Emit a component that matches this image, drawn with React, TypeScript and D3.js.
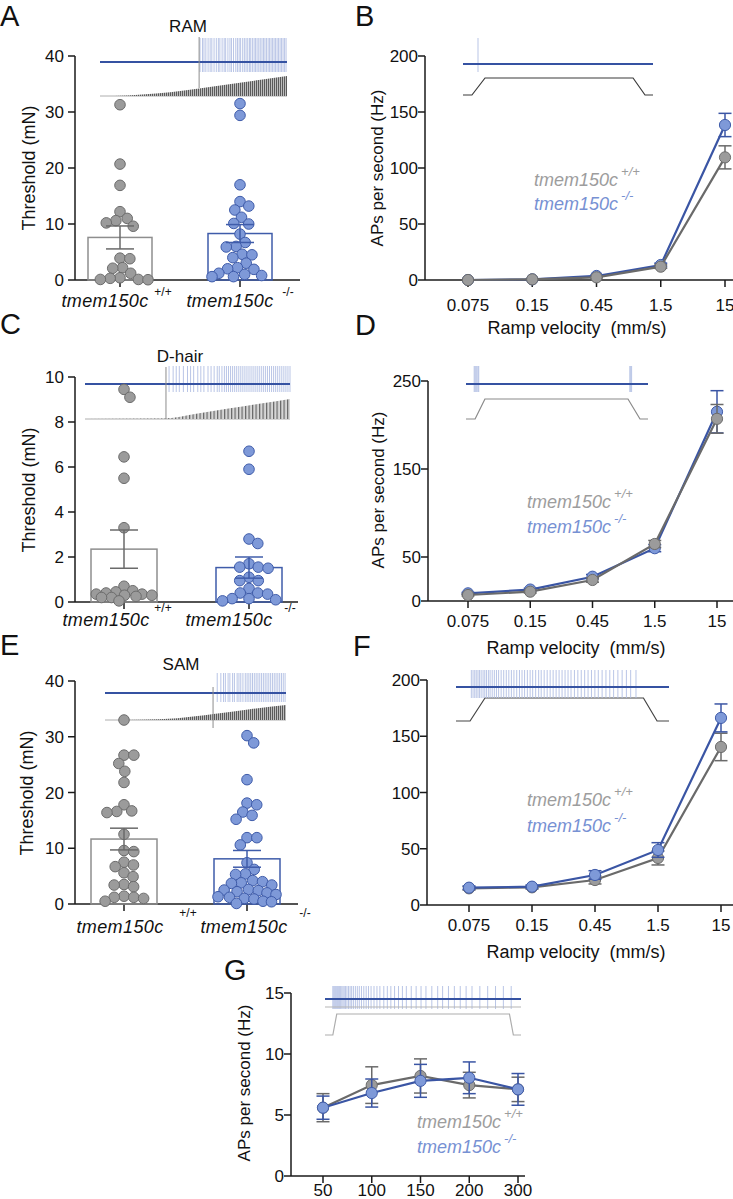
import React from 'react';
import * as d3 from 'd3';

// ---------------- DATA ----------------
const genotypeName = 'tmem150c';
const genotypeSup = ['+/+', '-/-'];

// Panel A (RAM thresholds, mN)
const ramWT = [31.3, 20.7, 16.9, 12.2, 11.0, 10.6, 10.2, 9.6, 3.9, 3.8, 2.2, 2.1, 1.2, 0.4, 0.3, 0.1, 0.05, 0.1];
const ramKO = [31.5, 29.4, 17.0, 14.0, 13.2, 12.5, 11.2, 10.1, 10.0, 8.2, 6.7, 6.0, 5.9, 4.6, 4.5, 4.0, 3.0, 2.2, 2.0, 1.9, 1.2, 1.0, 0.8, 0.6, 0.6];
const ramMean = [7.6, 8.3];
const ramSem = [2.05, 1.6];
const ramTicks = [0, 10, 20, 30, 40];

// Panel C (D-hair thresholds, mN)
const dhairWT = [9.45, 9.1, 6.45, 5.5, 3.3, 0.7, 0.5, 0.45, 0.4, 0.35, 0.35, 0.3, 0.3, 0.25, 0.2, 0.2, 0.05];
const dhairKO = [6.7, 5.9, 2.8, 2.6, 1.7, 1.55, 1.55, 1.5, 1.1, 0.95, 0.95, 0.6, 0.4, 0.4, 0.35, 0.15, 0.15, 0.1, 0.05];
const dhairMean = [2.35, 1.53];
const dhairSem = [0.85, 0.47];
const dhairTicks = [0, 2, 4, 6, 8, 10];

// Panel E (SAM thresholds, mN)
const samWT = [33.0, 26.7, 26.7, 25.2, 23.8, 21.8, 17.8, 16.7, 16.6, 16.4, 12.5, 9.6, 9.4, 7.5, 7.0, 6.7, 5.6, 4.9, 3.5, 3.4, 3.1, 1.4, 1.2, 1.2, 1.0, 0.5];
const samKO = [30.2, 28.9, 22.3, 18.1, 17.8, 16.5, 15.9, 15.2, 11.9, 11.9, 10.6, 7.4, 6.2, 5.4, 5.3, 4.2, 4.0, 3.8, 3.7, 3.4, 2.6, 2.5, 2.4, 2.2, 2.0, 1.7, 1.3, 1.2, 1.0, 0.9, 0.5, 0.4, 0.1];
const samMean = [11.65, 8.1];
const samSem = [1.95, 1.5];
const samTicks = [0, 10, 20, 30, 40];

// Ramp velocities (mm/s)
const velocities = ['0.075', '0.15', '0.45', '1.5', '15'];

// Panel B (RAM, APs per second)
const ramRateWT = [0, 0.6, 2.4, 11.9, 109.5];
const ramRateWTSem = [0, 0.2, 0.5, 1.5, 10.3];
const ramRateKO = [0, 0.6, 3.6, 13.4, 138.4];
const ramRateKOSem = [0, 0.2, 0.6, 1.6, 10.4];
const ramRateTicks = [0, 50, 100, 150, 200];

// Panel D (D-hair, APs per second)
const dhairRateWT = [6.8, 10.6, 23.9, 64.8, 207];
const dhairRateWTSem = [1, 1.5, 2.5, 4, 16.3];
const dhairRateKO = [8.7, 13, 27.6, 60, 215];
const dhairRateKOSem = [1, 1.5, 2.5, 4, 24];
const dhairRateTicks = [0, 50, 150, 250];

// Panel F (SAM, APs per second)
const samRateWT = [14.8, 15.7, 22.2, 41.8, 140.5];
const samRateWTSem = [1.5, 1.5, 3.5, 6.2, 12.2];
const samRateKO = [15.4, 16.3, 26.7, 48.9, 166.3];
const samRateKOSem = [1.5, 1.5, 3.8, 6.5, 12.4];
const samRateTicks = [0, 50, 100, 150, 200];

// Panel G (vibration frequency, Hz)
const frequencies = ['50', '100', '150', '200', '300'];
const freqRateWT = [5.6, 7.45, 8.2, 7.45, 7.1];
const freqRateWTSem = [1.15, 1.5, 1.4, 1.05, 1.0];
const freqRateKO = [5.6, 6.8, 7.8, 8.05, 7.1];
const freqRateKOSem = [0.95, 1.15, 1.35, 1.3, 1.3];
const freqRateTicks = [0, 5, 10, 15];

// Example trace insets (spike times as fraction of trace length)
const ramSpikes = [0.535, 0.548, 0.556, 0.566, 0.578, 0.589, 0.598, 0.61, 0.622, 0.633, 0.641, 0.653, 0.664, 0.672, 0.684, 0.695, 0.703, 0.714, 0.726, 0.735, 0.744, 0.752, 0.763, 0.772, 0.781, 0.79, 0.799, 0.806, 0.815, 0.824, 0.832, 0.84, 0.849, 0.857, 0.866, 0.874, 0.882, 0.89, 0.899, 0.907, 0.915, 0.923, 0.931, 0.939, 0.947, 0.955, 0.963, 0.971, 0.979, 0.987, 0.995];
const ramStimT = [0, 0.15, 0.3, 0.45, 0.53, 0.7, 0.85, 1];
const ramStimA = [0, 0.03, 0.12, 0.28, 0.38, 0.6, 0.8, 1];

const dhairSpikes = [0.41, 0.43, 0.445, 0.46, 0.48, 0.5, 0.515, 0.53, 0.55, 0.565, 0.58, 0.6, 0.615, 0.63, 0.645, 0.655, 0.668, 0.68, 0.69, 0.7, 0.71, 0.72, 0.73, 0.74, 0.75, 0.76, 0.77, 0.78, 0.79, 0.8, 0.81, 0.82, 0.83, 0.84, 0.85, 0.86, 0.87, 0.88, 0.89, 0.9, 0.91, 0.92, 0.93, 0.94, 0.95, 0.96, 0.97, 0.98, 0.99, 1.0];
const dhairStimT = [0, 0.38, 0.55, 0.7, 0.85, 1];
const dhairStimA = [0, 0.02, 0.28, 0.52, 0.76, 1];

const samSpikes = [0.62, 0.64, 0.655, 0.665, 0.68, 0.69, 0.705, 0.715, 0.73, 0.74, 0.75, 0.762, 0.775, 0.785, 0.795, 0.805, 0.815, 0.825, 0.835, 0.845, 0.855, 0.865, 0.875, 0.885, 0.895, 0.905, 0.915, 0.925, 0.935, 0.945, 0.955, 0.965, 0.975, 0.985, 0.995];
const samStimT = [0, 0.2, 0.4, 0.6, 0.8, 1];
const samStimA = [0, 0.02, 0.12, 0.4, 0.72, 1];

const ramRampSpikes = [0.079];
const dhairRampSpikes = [0.045, 0.05, 0.055, 0.06, 0.066, 0.07, 0.9, 0.905, 0.91];
const samRampSpikes = [0.072, 0.08, 0.088, 0.095, 0.103, 0.11, 0.118, 0.127, 0.135, 0.143, 0.152, 0.16, 0.17, 0.18, 0.19, 0.2, 0.212, 0.224, 0.236, 0.248, 0.26, 0.272, 0.285, 0.298, 0.31, 0.322, 0.335, 0.348, 0.36, 0.374, 0.388, 0.4, 0.414, 0.428, 0.442, 0.456, 0.47, 0.484, 0.498, 0.512, 0.526, 0.54, 0.556, 0.572, 0.588, 0.604, 0.62, 0.636, 0.652, 0.668, 0.686, 0.704, 0.722, 0.74, 0.76, 0.78, 0.8, 0.82, 0.845];
const freqSpikes = [0.04, 0.045, 0.05, 0.055, 0.06, 0.065, 0.07, 0.075, 0.08, 0.086, 0.092, 0.098, 0.105, 0.112, 0.12, 0.128, 0.136, 0.145, 0.155, 0.165, 0.175, 0.186, 0.198, 0.21, 0.222, 0.235, 0.25, 0.265, 0.28, 0.3, 0.318, 0.336, 0.355, 0.375, 0.395, 0.415, 0.44, 0.465, 0.49, 0.515, 0.545, 0.575, 0.6, 0.63, 0.66, 0.69, 0.72, 0.75, 0.79, 0.83, 0.87, 0.91, 0.95];

const ramRampT = [0, 0.047, 0.116, 0.895, 0.958, 1];
const dhairRampT = [0, 0.05, 0.104, 0.89, 0.956, 1];
const samRampT = [0, 0.066, 0.136, 0.88, 0.944, 1];
const freqRampT = [0, 0.04, 0.06, 0.941, 0.961, 1];
const rampLevel = [0, 0, 1, 1, 0, 0];

// ---------------- STYLE ----------------
const FONT = "'Liberation Sans', Arial, Helvetica, sans-serif";
const AXIS = '#1a1a1a';
const GRAY_FILL = '#9b9b9b';
const GRAY_STROKE = '#6c6c6c';
const GRAY_LINE = '#6a6a6a';
const GRAY_BAR = '#8e8e8e';
const BLUE_FILL = '#7e99d8';
const BLUE_STROKE = '#3f5caa';
const BLUE_LINE = '#3a55a4';
const GRAY_TEXT = '#9d9d9d';
const BLUE_TEXT = '#7791d3';
const TRACE_BLUE = '#3552a2';
const SPIKE_BLUE = '#b1bee3';

// ---------------- HELPERS ----------------
type Pt = { v: number; y: number; dx: number };

function swarm(values: number[], y: (v: number) => number, r: number, maxHalf: number) {
  const pts: Pt[] = values.map((v) => ({ v, y: y(v), dx: 0 }));
  const order = pts.slice().sort((a, b) => a.y - b.y);
  const placed: Pt[] = [];
  const d = 2 * r * 0.93;
  for (const p of order) {
    const cands = [0];
    for (const q of placed) {
      const dy = Math.abs(q.y - p.y);
      if (dy < d) {
        const dx = Math.sqrt(d * d - dy * dy);
        cands.push(q.dx + dx + 0.01, q.dx - dx - 0.01);
      }
    }
    cands.sort((a, b) => Math.abs(a) - Math.abs(b));
    let chosen: number | null = null;
    for (const c of cands) {
      if (Math.abs(c) > maxHalf) continue;
      if (placed.every((q) => (q.dx - c) ** 2 + (q.y - p.y) ** 2 >= d * d - 0.05)) {
        chosen = c;
        break;
      }
    }
    if (chosen === null) {
      let best = 0;
      let bestD = -1;
      for (let c = -maxHalf; c <= maxHalf + 1e-6; c += 0.5) {
        let md = Infinity;
        for (const q of placed) md = Math.min(md, (q.dx - c) ** 2 + (q.y - p.y) ** 2);
        if (md > bestD + 1e-6 || (Math.abs(md - bestD) < 1e-6 && Math.abs(c) < Math.abs(best))) {
          bestD = md;
          best = c;
        }
      }
      chosen = best;
    }
    p.dx = chosen;
    placed.push(p);
  }
  return pts;
}

function Letter({ t, x, y }: any) {
  return (
    <text x={x} y={y} fontSize={29} fontFamily={FONT} fill="#111">
      {t}
    </text>
  );
}

function StimWedge({ x0, x1, base, top, T, A, pat }: any) {
  const xs = d3.scaleLinear().domain([0, 1]).range([x0, x1]);
  const ys = d3.scaleLinear().domain([0, 1]).range([base, top]);
  const idx = d3.range(T.length);
  const area = d3
    .area<number>()
    .x((i) => xs(T[i]))
    .y0(base)
    .y1((i) => ys(A[i]))
    .curve(d3.curveMonotoneX);
  return (
    <g>
      <line x1={x0} x2={x1} y1={base} y2={base} stroke="#9a9a9a" strokeWidth={0.8} />
      <path d={area(idx) || ''} fill={`url(#${pat})`} />
    </g>
  );
}

function Trace({ x0, x1, lineY, up, down, spikes, thr, thrTop, thrBottom, extraY }: any) {
  const xs = d3.scaleLinear().domain([0, 1]).range([x0, x1]);
  return (
    <g>
      {spikes.map((s: number, i: number) => (
        <line key={i} x1={xs(s)} x2={xs(s)} y1={up} y2={down} stroke={SPIKE_BLUE} strokeWidth={0.9} />
      ))}
      {extraY != null && <line x1={x0} x2={x1} y1={extraY} y2={extraY} stroke="#b5b5b5" strokeWidth={1} />}
      <line x1={x0} x2={x1} y1={lineY} y2={lineY} stroke={TRACE_BLUE} strokeWidth={2.2} />
      {thr != null && (
        <line x1={xs(thr)} x2={xs(thr)} y1={thrTop} y2={thrBottom} stroke="#8d8d8d" strokeWidth={1} />
      )}
    </g>
  );
}

function Ramp({ x0, x1, base, top, T, color }: any) {
  const xs = d3.scaleLinear().domain([0, 1]).range([x0, x1]);
  const ys = d3.scaleLinear().domain([0, 1]).range([base, top]);
  const line = d3
    .line<number>()
    .x((i) => xs(T[i]))
    .y((i) => ys(rampLevel[i]));
  return <path d={line(d3.range(T.length)) || ''} fill="none" stroke={color} strokeWidth={1.2} />;
}

function AxisGenotype({ cx, base, sup, supX, supBase }: any) {
  return (
    <g fontFamily={FONT} fill="#111">
      <text x={cx} y={base} fontSize={18} fontStyle="italic" textAnchor="middle" letterSpacing={0.4}>
        {genotypeName}
      </text>
      <text x={supX} y={supBase} fontSize={12} textAnchor="middle">
        {sup}
      </text>
    </g>
  );
}

function LegendEntry({ x, base, sup, fill }: any) {
  return (
    <text x={x} y={base} fontFamily={FONT} fontSize={18} fontStyle="italic" fill={fill}>
      {genotypeName}
      <tspan dx={3} dy={-10} fontSize={13}>
        {sup}
      </tspan>
    </text>
  );
}

function BarPanel({ p }: any) {
  const y = d3.scaleLinear().domain([0, p.max]).range([p.y0, p.yTop]);
  const x = d3.scalePoint<string>().domain(['wt', 'ko']).range(p.centers);
  const R = 5.3;
  const groups = [
    { key: 'wt', vals: p.wt, fill: GRAY_FILL, stroke: GRAY_STROKE, bar: GRAY_BAR, err: GRAY_LINE },
    { key: 'ko', vals: p.ko, fill: BLUE_FILL, stroke: BLUE_STROKE, bar: BLUE_STROKE, err: BLUE_STROKE },
  ];
  return (
    <g>
      <Letter t={p.letter} x={p.letterX} y={p.letterY} />
      <text x={p.titleX} y={p.titleY} fontSize={17} fontFamily={FONT} textAnchor="middle" fill="#111">
        {p.title}
      </text>
      {p.inset}
      <line x1={p.axisX} x2={p.axisX} y1={p.y0} y2={p.yTop} stroke={AXIS} strokeWidth={1.5} />
      <line x1={p.axisX} x2={p.xEnd} y1={p.y0} y2={p.y0} stroke={AXIS} strokeWidth={1.5} />
      {p.ticks.map((t: number) => (
        <g key={t}>
          <line x1={p.axisX - 7} x2={p.axisX} y1={y(t)} y2={y(t)} stroke={AXIS} strokeWidth={1.5} />
          <text x={p.axisX - 11} y={y(t) + 6} fontSize={17} fontFamily={FONT} textAnchor="end" fill="#111">
            {t}
          </text>
        </g>
      ))}
      {groups.map((g) => (
        <line key={g.key} x1={x(g.key)!} x2={x(g.key)!} y1={p.y0} y2={p.y0 + 7} stroke={AXIS} strokeWidth={1.5} />
      ))}
      {groups.map((g, gi) => {
        const cx = x(g.key)!;
        const bw = p.barW;
        const pts = swarm(g.vals, y, R, bw / 2 - 4);
        const m = p.mean[gi];
        const s = p.sem[gi];
        return (
          <g key={g.key}>
            <rect x={cx - bw / 2} y={y(m)} width={bw} height={p.y0 - y(m)} fill="none" stroke={g.bar} strokeWidth={1.5} />
            {pts.map((pt, i) => (
              <circle key={i} cx={cx + pt.dx} cy={pt.y} r={R} fill={g.fill} stroke={g.stroke} strokeWidth={1} />
            ))}
            <line x1={cx} x2={cx} y1={y(m + s)} y2={y(m - s)} stroke={g.err} strokeWidth={1.5} />
            <line x1={cx - 14} x2={cx + 14} y1={y(m + s)} y2={y(m + s)} stroke={g.err} strokeWidth={1.5} />
            <line x1={cx - 14} x2={cx + 14} y1={y(m - s)} y2={y(m - s)} stroke={g.err} strokeWidth={1.5} />
          </g>
        );
      })}
      {genotypeSup.map((sup, i) => (
        <AxisGenotype key={i} cx={p.labelCenters[i]} base={p.labelBase} sup={sup} supX={p.supX[i]} supBase={p.supBase} />
      ))}
      <text
        transform={`translate(${p.ylabX},${p.ylabY}) rotate(-90)`}
        fontSize={18}
        fontFamily={FONT}
        textAnchor="middle"
        fill="#111"
      >
        Threshold (mN)
      </text>
    </g>
  );
}

function LinePanel({ p }: any) {
  const x = d3.scalePoint<string>().domain(p.cats).range(p.catRange);
  const y = d3.scaleLinear().domain([0, p.max]).range([p.y0, p.yTop]);
  const series: any = {
    wt: { m: p.wt, s: p.wtSem, line: GRAY_LINE, fill: GRAY_FILL, stroke: GRAY_STROKE },
    ko: { m: p.ko, s: p.koSem, line: BLUE_LINE, fill: BLUE_FILL, stroke: BLUE_STROKE },
  };
  const order = p.top === 'wt' ? ['ko', 'wt'] : ['wt', 'ko'];
  const line = d3
    .line<number>()
    .x((_, i) => x(p.cats[i])!)
    .y((v) => y(v));
  return (
    <g>
      <Letter t={p.letter} x={p.letterX} y={p.letterY} />
      {p.inset}
      <line x1={p.axisX} x2={p.axisX} y1={p.y0} y2={p.yTop} stroke={AXIS} strokeWidth={1.5} />
      <line x1={p.axisX} x2={p.xEnd} y1={p.y0} y2={p.y0} stroke={AXIS} strokeWidth={1.5} />
      {p.ticks.map((t: number) => (
        <g key={t}>
          <line x1={p.axisX - 7} x2={p.axisX} y1={y(t)} y2={y(t)} stroke={AXIS} strokeWidth={1.5} />
          <text x={p.axisX - 7} y={y(t) + 6} fontSize={17} fontFamily={FONT} textAnchor="end" fill="#111">
            {t}
          </text>
        </g>
      ))}
      {p.cats.map((c: string) => (
        <g key={c}>
          <line x1={x(c)!} x2={x(c)!} y1={p.y0} y2={p.y0 + 7} stroke={AXIS} strokeWidth={1.5} />
          <text x={x(c)!} y={p.tickLabelBase} fontSize={17} fontFamily={FONT} textAnchor="middle" fill="#111">
            {c}
          </text>
        </g>
      ))}
      {p.xlabel && (
        <text
          x={p.xlabX}
          y={p.xlabBase}
          fontSize={18}
          fontFamily={FONT}
          textAnchor="middle"
          fill="#111"
          style={{ whiteSpace: 'pre' }}
        >
          {p.xlabel}
        </text>
      )}
      {p.ylabX != null && (
        <text
          transform={`translate(${p.ylabX},${p.ylabY}) rotate(-90)`}
          fontSize={17}
          fontFamily={FONT}
          textAnchor="middle"
          fill="#111"
        >
          APs per second (Hz)
        </text>
      )}
      {order.map((k) => {
        const s = series[k];
        return (
          <g key={k}>
            <path d={line(s.m) || ''} fill="none" stroke={s.line} strokeWidth={2.2} />
            {s.m.map((v: number, i: number) => {
              const cx = x(p.cats[i])!;
              const e = s.s[i];
              if (!e) return null;
              return (
                <g key={i} stroke={s.line} strokeWidth={1.5}>
                  <line x1={cx} x2={cx} y1={y(v + e)} y2={y(v - e)} />
                  <line x1={cx - 6.5} x2={cx + 6.5} y1={y(v + e)} y2={y(v + e)} />
                  <line x1={cx - 6.5} x2={cx + 6.5} y1={y(v - e)} y2={y(v - e)} />
                </g>
              );
            })}
            {s.m.map((v: number, i: number) => (
              <circle key={i} cx={x(p.cats[i])!} cy={y(v)} r={5.6} fill={s.fill} stroke={s.stroke} strokeWidth={1} />
            ))}
          </g>
        );
      })}
      <LegendEntry x={p.legX} base={p.legBase[0]} sup={genotypeSup[0]} fill={GRAY_TEXT} />
      <LegendEntry x={p.legX} base={p.legBase[1]} sup={genotypeSup[1]} fill={BLUE_TEXT} />
    </g>
  );
}

export default function App() {
  const panelA = {
    letter: 'A', letterX: 0, letterY: 26, title: 'RAM', titleX: 188, titleY: 32,
    axisX: 75, xEnd: 300, y0: 280, yTop: 56, max: 40, ticks: ramTicks, centers: [120, 240], barW: 64,
    wt: ramWT, ko: ramKO, mean: ramMean, sem: ramSem,
    labelCenters: [105, 230], labelBase: 307, supX: [163, 288], supBase: 296, ylabX: 35, ylabY: 168,
    inset: (
      <g>
        <StimWedge x0={100} x1={287} base={96} top={76} T={ramStimT} A={ramStimA} pat="oscFine" />
        <Trace x0={100} x1={287} lineY={62} up={38} down={72} spikes={ramSpikes} thr={0.53} thrTop={37} thrBottom={88} />
      </g>
    ),
  };
  const panelC = {
    letter: 'C', letterX: 0, letterY: 334, title: 'D-hair', titleX: 180, titleY: 362,
    axisX: 75, xEnd: 298, y0: 602, yTop: 377, max: 10, ticks: dhairTicks, centers: [124, 249], barW: 66,
    wt: dhairWT, ko: dhairKO, mean: dhairMean, sem: dhairSem,
    labelCenters: [106, 229], labelBase: 626, supX: [163, 290], supBase: 612, ylabX: 35, ylabY: 490,
    inset: (
      <g>
        <StimWedge x0={85} x1={290} base={419} top={399} T={dhairStimT} A={dhairStimA} pat="oscCoarse" />
        <Trace x0={85} x1={290} lineY={384} up={366} down={392} spikes={dhairSpikes} thr={0.395} thrTop={367} thrBottom={419} />
      </g>
    ),
  };
  const panelE = {
    letter: 'E', letterX: 0, letterY: 655, title: 'SAM', titleX: 181, titleY: 670,
    axisX: 75, xEnd: 298, y0: 904, yTop: 681, max: 40, ticks: samTicks, centers: [124, 247], barW: 66,
    wt: samWT, ko: samKO, mean: samMean, sem: samSem,
    labelCenters: [120, 244], labelBase: 933, supX: [188, 305], supBase: 917, ylabX: 33, ylabY: 793,
    inset: (
      <g>
        <StimWedge x0={105} x1={286} base={720} top={705} T={samStimT} A={samStimA} pat="oscFine" />
        <Trace x0={105} x1={286} lineY={693} up={673} down={702} spikes={samSpikes} thr={0.597} thrTop={687} thrBottom={728} />
      </g>
    ),
  };
  const panelB = {
    letter: 'B', letterX: 355, letterY: 26, axisX: 425, xEnd: 733, y0: 280, yTop: 56, max: 200,
    ticks: ramRateTicks, cats: velocities, catRange: [468, 725], tickLabelBase: 311,
    xlabel: 'Ramp velocity  (mm/s)', xlabX: 577, xlabBase: 334, ylabX: 383, ylabY: 168,
    wt: ramRateWT, wtSem: ramRateWTSem, ko: ramRateKO, koSem: ramRateKOSem, top: 'wt',
    legX: 534, legBase: [186, 210],
    inset: (
      <g>
        <Ramp x0={463} x1={653} base={95} top={78} T={ramRampT} color="#3a3a3a" />
        <Trace x0={463} x1={653} lineY={64} up={38} down={72} spikes={ramRampSpikes} />
      </g>
    ),
  };
  const panelD = {
    letter: 'D', letterX: 355, letterY: 335, axisX: 428, xEnd: 733, y0: 601, yTop: 381, max: 250,
    ticks: dhairRateTicks, cats: velocities, catRange: [468, 717], tickLabelBase: 627,
    xlabel: 'Ramp velocity  (mm/s)', xlabX: 576, xlabBase: 654, ylabX: 384, ylabY: 490,
    wt: dhairRateWT, wtSem: dhairRateWTSem, ko: dhairRateKO, koSem: dhairRateKOSem, top: 'wt',
    legX: 527, legBase: [508, 533],
    inset: (
      <g>
        <Ramp x0={466} x1={648} base={419} top={399} T={dhairRampT} color="#8a8a8a" />
        <Trace x0={466} x1={648} lineY={384} up={366} down={392} spikes={dhairRampSpikes} />
      </g>
    ),
  };
  const panelF = {
    letter: 'F', letterX: 353, letterY: 656, axisX: 427, xEnd: 733, y0: 905, yTop: 680, max: 200,
    ticks: samRateTicks, cats: velocities, catRange: [469, 721], tickLabelBase: 931,
    xlabel: 'Ramp velocity  (mm/s)', xlabX: 576, xlabBase: 958,
    wt: samRateWT, wtSem: samRateWTSem, ko: samRateKO, koSem: samRateKOSem, top: 'ko',
    legX: 527, legBase: [806, 832],
    inset: (
      <g>
        <Ramp x0={456} x1={669} base={721} top={698} T={samRampT} color="#444" />
        <Trace x0={456} x1={669} lineY={687} up={670} down={698} spikes={samRampSpikes} />
      </g>
    ),
  };
  const panelG = {
    letter: 'G', letterX: 224, letterY: 980, axisX: 291, xEnd: 525, y0: 1176, yTop: 993, max: 15,
    ticks: freqRateTicks, cats: frequencies, catRange: [323, 518], tickLabelBase: 1196,
    ylabX: 250, ylabY: 1083,
    wt: freqRateWT, wtSem: freqRateWTSem, ko: freqRateKO, koSem: freqRateKOSem, top: 'ko',
    legX: 417, legBase: [1128, 1153],
    inset: (
      <g>
        <Ramp x0={325} x1={521} base={1035} top={1014} T={freqRampT} color="#adadad" />
        <Trace x0={325} x1={521} lineY={999} up={986} down={1009} spikes={freqSpikes} extraY={1007} />
      </g>
    ),
  };

  return (
    <div style={{ position: 'absolute', left: 0, top: 0 }}>
      <svg width={733} height={1199} style={{ display: 'block', background: '#fff' }} fontFamily={FONT}>
        <defs>
          <pattern id="oscFine" width={2} height={10} patternUnits="userSpaceOnUse">
            <rect width={2} height={10} fill="#bdbdbd" />
            <rect width={1} height={10} fill="#5a5a5a" />
          </pattern>
          <pattern id="oscCoarse" width={3.5} height={10} patternUnits="userSpaceOnUse">
            <rect width={3.5} height={10} fill="#d6d6d6" />
            <rect width={1.2} height={10} fill="#666" />
          </pattern>
        </defs>
        <rect width={733} height={1199} fill="#fff" />
        <BarPanel p={panelA} />
        <BarPanel p={panelC} />
        <BarPanel p={panelE} />
        <LinePanel p={panelB} />
        <LinePanel p={panelD} />
        <LinePanel p={panelF} />
        <LinePanel p={panelG} />
      </svg>
    </div>
  );
}
